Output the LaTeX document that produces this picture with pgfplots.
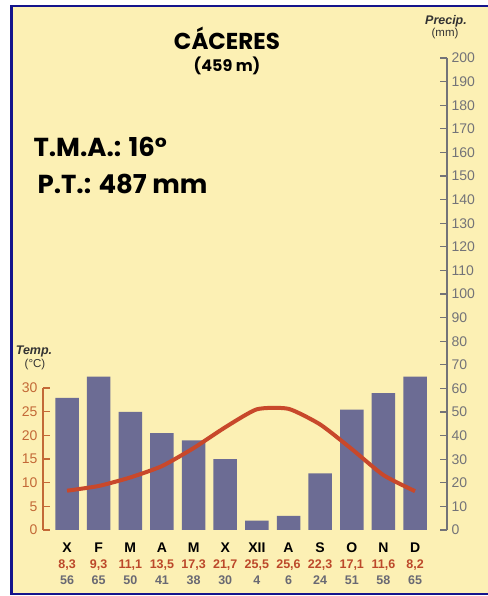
\documentclass[border=0pt]{standalone}
\usepackage{pgfplots}
\pgfplotsset{compat=1.18}
\usepackage{fontspec}
\setmainfont{Liberation Sans}
\newfontfamily\comic{Poppins}
\definecolor{bg}{RGB}{252,240,180}
\definecolor{frame}{RGB}{20,20,140}
\definecolor{barc}{RGB}{108,108,148}
\definecolor{tline}{RGB}{200,72,43}
\definecolor{taxis}{RGB}{195,105,55}
\definecolor{tval}{RGB}{188,72,42}
\definecolor{paxis}{RGB}{115,115,120}
\definecolor{pval}{RGB}{105,105,115}
\begin{document}
\begin{tikzpicture}[x=1pt,y=1pt]
\useasboundingbox (0,0) rectangle (487,596);
\fill[white] (0,0) rectangle (487,596);
\draw[frame, line width=2.5pt, fill=bg] (11.5,2) rectangle (500,590);
% titles
\node[font=\comic\bfseries\fontsize{23}{26}\selectfont] at (227,558) {CÁCERES};
\node[font=\comic\bfseries\fontsize{16}{18}\selectfont] at (227,530) {(459 m)};
\node[anchor=west, font=\comic\bfseries\fontsize{26}{30}\selectfont] at (30,449) {T.M.A.: 16°};
\node[anchor=west, font=\comic\bfseries\fontsize{26}{30}\selectfont] at (34,412) {P.T.: 487 mm};
% axis captions
\node[font=\bfseries\itshape\fontsize{12.5}{13}\selectfont, text=black!80] at (34,244) {Temp.};
\node[font=\fontsize{11.5}{13}\selectfont, text=black!80] at (35,231) {(°C)};
\node[font=\bfseries\itshape\fontsize{12.5}{13}\selectfont, text=black!80] at (446,575) {Precip.};
\node[font=\fontsize{11.5}{13}\selectfont, text=black!80] at (445,562) {(mm)};
\begin{axis}[
  at={(43pt,66pt)}, anchor=south west,
  scale only axis, width=404pt, height=472pt,
  xmin=-0.76, xmax=12.01, ymin=0, ymax=200,
  axis y line*=right, axis x line*=bottom,
  axis line style={-},
  x axis line style={draw=none},
  y axis line style={paxis, line width=1.3pt},
  ytick={0,10,...,200},
  tick align=inside, major tick length=7pt,
  ytick style={paxis, line width=1.3pt},
  /pgf/number format/assume math mode=true,
  yticklabel style={text=paxis, font=\fontsize{14}{15}\selectfont, xshift=1pt},
  xtick={0,...,11}, xtick style={draw=none},
  xticklabels={
    {\textbf{\fontsize{14}{16}\selectfont X}\\{\color{tval}8,3}\\{\color{pval}56}},
    {\textbf{\fontsize{14}{16}\selectfont F}\\{\color{tval}9,3}\\{\color{pval}65}},
    {\textbf{\fontsize{14}{16}\selectfont M}\\{\color{tval}11,1}\\{\color{pval}50}},
    {\textbf{\fontsize{14}{16}\selectfont A}\\{\color{tval}13,5}\\{\color{pval}41}},
    {\textbf{\fontsize{14}{16}\selectfont M}\\{\color{tval}17,3}\\{\color{pval}38}},
    {\textbf{\fontsize{14}{16}\selectfont X}\\{\color{tval}21,7}\\{\color{pval}30}},
    {\textbf{\fontsize{14}{16}\selectfont XII}\\{\color{tval}25,5}\\{\color{pval}4}},
    {\textbf{\fontsize{14}{16}\selectfont A}\\{\color{tval}25,6}\\{\color{pval}6}},
    {\textbf{\fontsize{14}{16}\selectfont S}\\{\color{tval}22,3}\\{\color{pval}24}},
    {\textbf{\fontsize{14}{16}\selectfont O}\\{\color{tval}17,1}\\{\color{pval}51}},
    {\textbf{\fontsize{14}{16}\selectfont N}\\{\color{tval}11,6}\\{\color{pval}58}},
    {\textbf{\fontsize{14}{16}\selectfont D}\\{\color{tval}8,2}\\{\color{pval}65}}},
  xticklabel style={align=center, font=\bfseries\fontsize{12.5}{16}\selectfont, inner sep=1pt, yshift=-5pt},
  ybar, bar width=23.5pt, clip=false,
]
\addplot[fill=barc, draw=none] coordinates {
 (0,56) (1,65) (2,50) (3,41) (4,38) (5,30) (6,4) (7,6) (8,24) (9,51) (10,58) (11,65)};
\end{axis}
\begin{axis}[
  at={(43pt,66pt)}, anchor=south west,
  scale only axis, width=404pt, height=142pt,
  xmin=-0.76, xmax=12.01, ymin=0, ymax=30,
  axis y line*=left, axis x line=none,
  axis line style={-},
  y axis line style={taxis, line width=1.3pt},
  ytick={0,5,...,30},
  tick align=inside, major tick length=7pt,
  ytick style={taxis, line width=1.3pt},
  /pgf/number format/assume math mode=true,
  yticklabel style={text=taxis, font=\fontsize{14}{15}\selectfont, xshift=-2pt},
  clip=false,
]
\addplot[tline, line width=4pt, smooth, tension=0.35] coordinates {
 (0,8.3) (1,9.3) (2,11.1) (3,13.5) (4,17.3) (5,21.7) (6,25.5) (7,25.6) (8,22.3) (9,17.1) (10,11.6) (11,8.2)};
\end{axis}
\end{tikzpicture}
\end{document}
